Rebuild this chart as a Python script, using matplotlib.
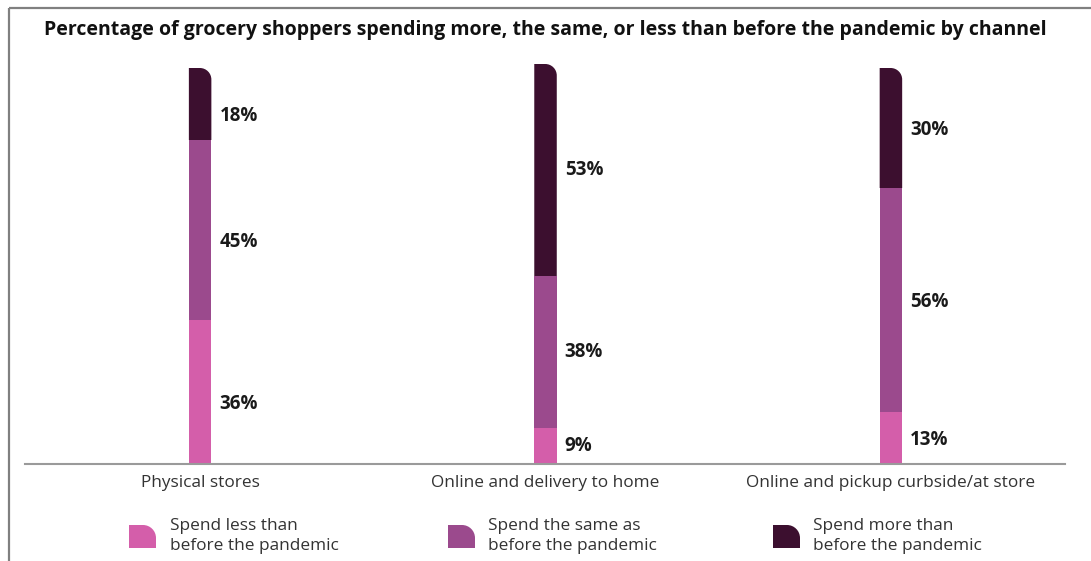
import matplotlib
matplotlib.use("Agg")
import matplotlib.pyplot as plt
from matplotlib.path import Path
from matplotlib.patches import PathPatch
import numpy as np

# ---- data ----
channels = ["Physical stores", "Online and delivery to home", "Online and pickup curbside/at store"]
spend_less = [36, 9, 13]
spend_same = [45, 38, 56]
spend_more = [18, 53, 30]
series_names = ["Spend less than\nbefore the pandemic",
                "Spend the same as\nbefore the pandemic",
                "Spend more than\nbefore the pandemic"]
colors = ["#D45EAA", "#9B4A8D", "#3C0F2F"]
title = "Percentage of grocery shoppers spending more, the same, or less than before the pandemic by channel"

FONT = ["Open Sans", "DejaVu Sans"]
plt.rcParams["font.family"] = FONT

W, H, DPI = 1091, 561, 100
fig = plt.figure(figsize=(W / DPI, H / DPI), dpi=DPI)
fig.patch.set_facecolor("white")

# overlay in pixel coordinates for frame and legend
ov = fig.add_axes([0, 0, 1, 1], zorder=0)
ov.set_xlim(0, W)
ov.set_ylim(H, 0)
ov.axis("off")
ov.patch.set_alpha(0)

# main plotting area (pixel geometry -> figure fractions)
ax_left, ax_right = 25, 1065
ax_top, ax_bottom = 64, 464
ax = fig.add_axes([ax_left / W, (H - ax_bottom) / H, (ax_right - ax_left) / W, (ax_bottom - ax_top) / H], zorder=1)
ax.patch.set_alpha(0)
xc = np.arange(len(channels))
ax.set_xlim(-0.507, 2.504)
ax.set_ylim(0, 100)

px_per_x = (ax_right - ax_left) / (ax.get_xlim()[1] - ax.get_xlim()[0])
px_per_y = (ax_bottom - ax_top) / (ax.get_ylim()[1] - ax.get_ylim()[0])
bar_w = 22.5 / px_per_x
radius_px = 11.5
K = 0.5523


def rounded_top_right(x0, x1, y0, y1, rx, ry):
    verts = [(x0, y0), (x1, y0), (x1, y1 - ry),
             (x1, y1 - ry + K * ry), (x1 - rx + K * rx, y1), (x1 - rx, y1),
             (x0, y1), (x0, y0)]
    codes = [Path.MOVETO, Path.LINETO, Path.LINETO,
             Path.CURVE4, Path.CURVE4, Path.CURVE4,
             Path.LINETO, Path.CLOSEPOLY]
    return Path(verts, codes)


# vertical nudge (pixels) of the value labels, per channel
label_dy = [-12, 0, -2]

stack = [spend_less, spend_same, spend_more]
bottoms = np.zeros(len(channels))
for si, (vals, col) in enumerate(zip(stack, colors)):
    vals = np.array(vals, dtype=float)
    if si < len(stack) - 1:
        ax.bar(xc, vals, width=bar_w, bottom=bottoms, color=col, linewidth=0, zorder=2)
    else:
        for i in range(len(channels)):
            p = rounded_top_right(xc[i] - bar_w / 2, xc[i] + bar_w / 2, bottoms[i], bottoms[i] + vals[i],
                                  radius_px / px_per_x, radius_px / px_per_y)
            ax.add_patch(PathPatch(p, facecolor=col, edgecolor="none", zorder=2))
    for i in range(len(channels)):
        ax.annotate(f"{vals[i]:.0f}%", xy=(xc[i] + bar_w / 2, bottoms[i] + vals[i] / 2),
                    xytext=(8, label_dy[i]), textcoords="offset pixels", ha="left", va="center",
                    fontsize=13.5, fontweight="bold", color="#1a1a1a")
    bottoms += vals

for s in ["top", "right", "left"]:
    ax.spines[s].set_visible(False)
ax.spines["bottom"].set_color("#9a9a9a")
ax.spines["bottom"].set_linewidth(1.5)
ax.set_yticks([])
ax.set_xticks(xc, channels)
ax.tick_params(axis="x", length=0, pad=8, labelsize=12.4, labelcolor="#333333")

# title
fig.text(545 / W, 1 - 30 / H, title, ha="center", va="center", fontsize=14,
         fontweight="bold", color="#111111")

# frame lines (left and top)
ov.plot([9, 9], [8, H], color="#808080", lw=1.6, solid_capstyle="butt")
ov.plot([9, W], [8, 8], color="#808080", lw=1.6, solid_capstyle="butt")

# legend
leg_x = [129, 448, 773]
leg_tx = [170, 488, 813]
for mx, tx, col, name in zip(leg_x, leg_tx, colors, series_names):
    mw, mh, r = 27, 23, 13
    # overlay y axis is inverted: top edge of the marker at y=525
    y_top, y_bot = 525, 525 + mh
    verts = [(mx, y_bot), (mx + mw, y_bot), (mx + mw, y_top + r),
             (mx + mw, y_top + r - K * r), (mx + mw - r + K * r, y_top), (mx + mw - r, y_top),
             (mx, y_top), (mx, y_bot)]
    codes = [Path.MOVETO, Path.LINETO, Path.LINETO,
             Path.CURVE4, Path.CURVE4, Path.CURVE4,
             Path.LINETO, Path.CLOSEPOLY]
    ov.add_patch(PathPatch(Path(verts, codes), facecolor=col, edgecolor="none"))
    ov.text(tx, 536, name, ha="left", va="center", fontsize=12.4, color="#333333", linespacing=1.3)

fig.savefig("out.png", dpi=DPI, facecolor="white")
